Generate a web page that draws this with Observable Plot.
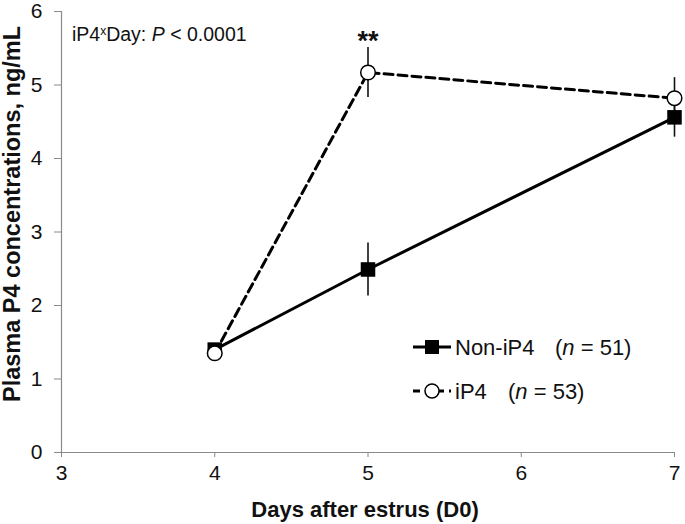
<!DOCTYPE html>
<html>
<head>
<meta charset="utf-8">
<script src="https://cdn.jsdelivr.net/npm/d3@7"></script>
<script src="https://cdn.jsdelivr.net/npm/@observablehq/plot@0.6"></script>
<style>
  html, body { margin: 0; padding: 0; background: #fff; }
  #chart { width: 685px; height: 524px; position: relative; }
</style>
</head>
<body>
<div id="chart"></div>
<script>
// ---- data ----
const days = [4, 5, 7];
const nonIP4Mean = [1.40, 2.49, 4.56];
const nonIP4SE   = [0.08, 0.36, 0.27];
const iP4Mean    = [1.35, 5.17, 4.82];
const iP4SE      = [0.08, 0.34, 0.28];
const sigMarks   = ["", "**", ""];
const xTicks = [3, 4, 5, 6, 7];
const yTicks = [0, 1, 2, 3, 4, 5, 6];
const seriesNames = ["Non-iP4", "iP4"];
const seriesN = [51, 53];
const xLabel = "Days after estrus (D0)";
const yLabel = "Plasma P4 concentrations, ng/mL";

const nonData = days.map((d, i) => ({day: d, mean: nonIP4Mean[i], se: nonIP4SE[i]}));
const ipData  = days.map((d, i) => ({day: d, mean: iP4Mean[i], se: iP4SE[i], sig: sigMarks[i]}));

const FONT = "'Liberation Sans', Arial, sans-serif";
const AX = "#8a8a8a";

const plot = Plot.plot({
  width: 685,
  height: 524,
  marginLeft: 61,
  marginRight: 11,
  marginTop: 11,
  marginBottom: 72,
  style: {fontFamily: FONT, color: "#111", background: "#fff", overflow: "visible"},
  x: {domain: [3, 7]},
  y: {domain: [0, 6]},
  marks: [
    Plot.axisX({ticks: xTicks, tickSize: 5, tickPadding: 8, fontSize: 21, stroke: AX, label: null, tickFormat: d => String(d)}),
    Plot.axisY({ticks: yTicks, tickSize: 7, tickPadding: 12, fontSize: 21, stroke: AX, label: null, tickFormat: d => String(d)}),
    Plot.ruleY([0], {stroke: AX, strokeWidth: 1.2}),
    Plot.ruleX([3], {stroke: AX, strokeWidth: 1.2}),
    // error bars
    Plot.ruleX(nonData, {x: "day", y1: d => d.mean - d.se, y2: d => d.mean + d.se, stroke: "#111", strokeWidth: 1.6}),
    Plot.ruleX(ipData, {x: "day", y1: d => d.mean - d.se, y2: d => d.mean + d.se, stroke: "#111", strokeWidth: 1.6}),
    // lines
    Plot.line(nonData, {x: "day", y: "mean", stroke: "#000", strokeWidth: 3}),
    Plot.line(ipData, {x: "day", y: "mean", stroke: "#000", strokeWidth: 3, strokeDasharray: "9,5"}),
    // markers
    Plot.dot(nonData, {x: "day", y: "mean", symbol: "square", r: 8.2, fill: "#000", stroke: "none"}),
    Plot.dot(ipData, {x: "day", y: "mean", symbol: "circle", r: 7.3, fill: "#fff", stroke: "#000", strokeWidth: 1.5}),
    // significance
    Plot.text(ipData, {x: "day", y: d => d.mean + d.se, text: "sig", dy: -6, fontSize: 27, fontWeight: "bold", fill: "#111"})
  ]
});

document.getElementById("chart").appendChild(plot);

const svg = d3.select(plot);

// axis titles
svg.append("text")
  .attr("x", 365).attr("y", 517)
  .attr("text-anchor", "middle")
  .attr("font-family", FONT).attr("font-size", 22).attr("font-weight", "bold").attr("fill", "#111")
  .text(xLabel);

svg.append("text")
  .attr("transform", "translate(20,214) rotate(-90)")
  .attr("text-anchor", "middle")
  .attr("font-family", FONT).attr("font-size", 23.5).attr("font-weight", "bold").attr("fill", "#111")
  .text(yLabel);

// interaction annotation
const ann = svg.append("text")
  .attr("x", 72).attr("y", 41)
  .attr("text-anchor", "start")
  .attr("font-family", FONT).attr("font-size", 19.5).attr("fill", "#111");
ann.append("tspan").text("iP4");
ann.append("tspan").attr("font-size", 12).attr("dy", -6).text("x");
ann.append("tspan").attr("dy", 6).text("Day: ");
ann.append("tspan").attr("font-style", "italic").text("P");
ann.append("tspan").text(" < 0.0001");

// legend
const legRows = [
  {y: 347, dash: null, symbol: "square", nx: 555},
  {y: 391, dash: "7,5", symbol: "circle", nx: 508}
];
legRows.forEach((row, i) => {
  const g = svg.append("g").attr("text-anchor", "start");
  g.append("line")
    .attr("x1", 413).attr("x2", 451).attr("y1", row.y).attr("y2", row.y)
    .attr("stroke", "#000").attr("stroke-width", 3)
    .attr("stroke-dasharray", row.dash);
  if (row.symbol === "square") {
    g.append("rect").attr("x", 425).attr("y", row.y - 7).attr("width", 14).attr("height", 14).attr("fill", "#000");
  } else {
    g.append("circle").attr("cx", 432).attr("cy", row.y).attr("r", 7).attr("fill", "#fff").attr("stroke", "#000").attr("stroke-width", 1.5);
  }
  g.append("text").attr("x", 455).attr("y", row.y + 8)
    .attr("font-family", FONT).attr("font-size", 22).attr("fill", "#111")
    .text(seriesNames[i]);
  const t = g.append("text").attr("x", row.nx).attr("y", row.y + 8)
    .attr("font-family", FONT).attr("font-size", 22).attr("fill", "#111");
  t.append("tspan").text("(");
  t.append("tspan").attr("font-style", "italic").text("n");
  t.append("tspan").text(" = " + seriesN[i] + ")");
});
</script>
</body>
</html>
